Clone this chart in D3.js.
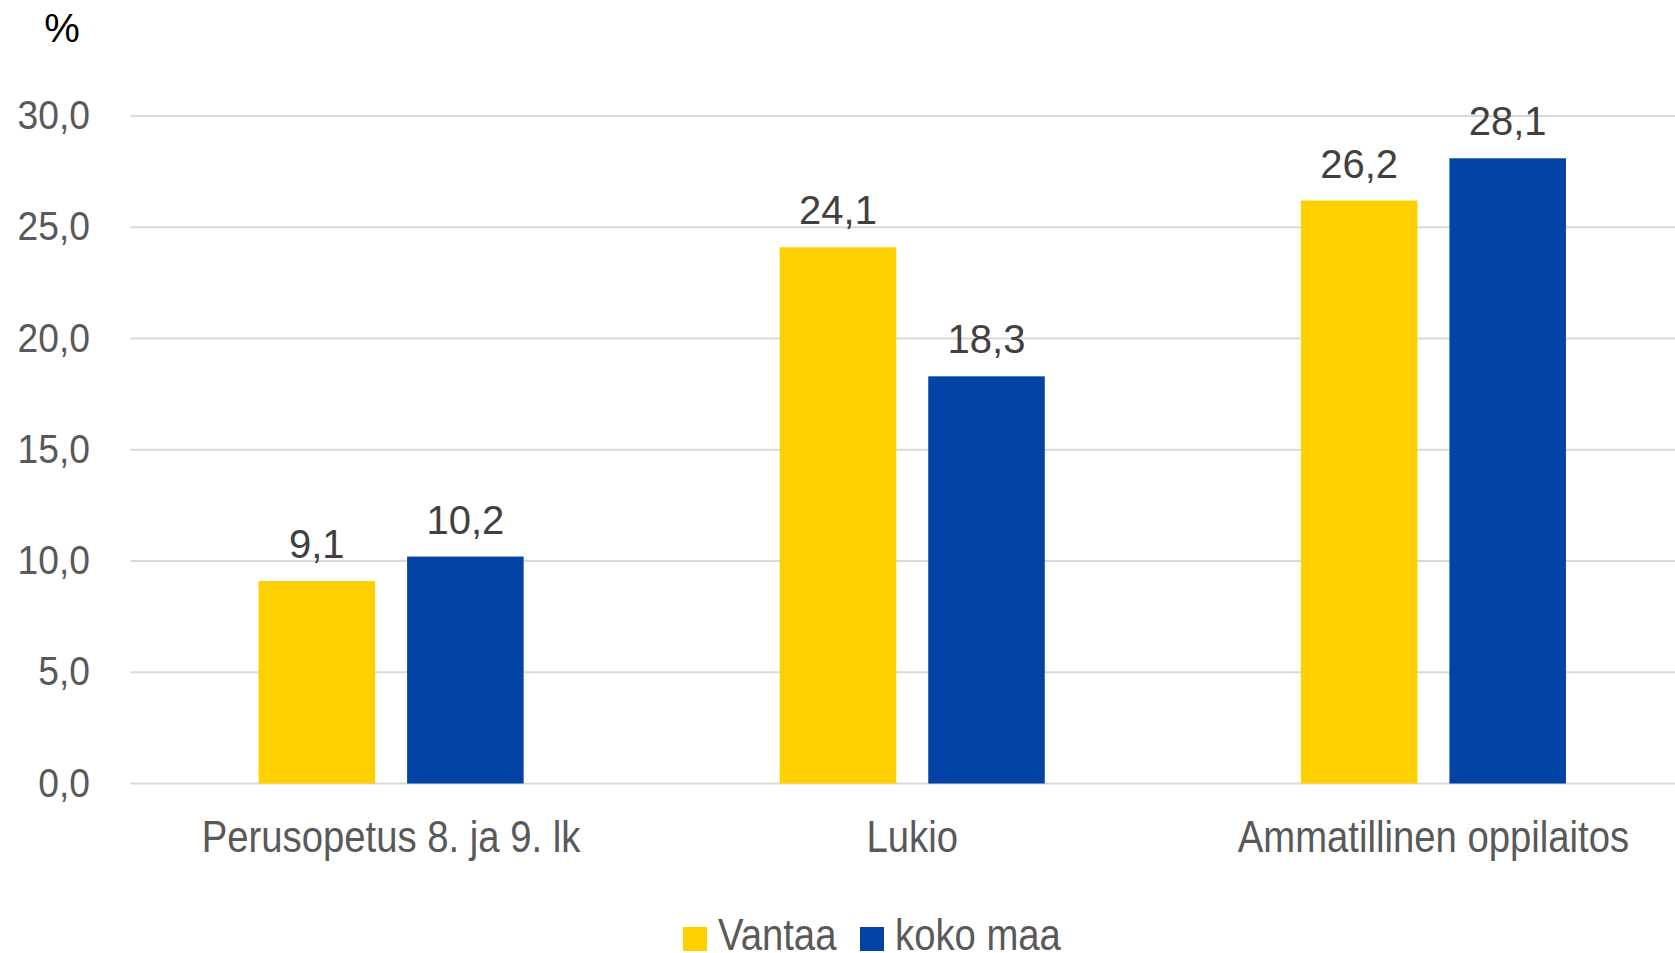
<!DOCTYPE html>
<html>
<head>
<meta charset="utf-8">
<script src="https://d3js.org/d3.v7.min.js"></script>
<style>
	body { margin: 0; background: #fff; overflow: hidden; }
	text { font-family: "Liberation Sans", Arial, sans-serif; }
</style>
</head>
<body>
<div id="chart"></div>
<script>
var categories = ["Perusopetus 8. ja 9. lk", "Lukio", "Ammatillinen oppilaitos"];
var seriesNames = ["Vantaa", "koko maa"];
var vantaa = [9.1, 24.1, 26.2];
var kokoMaa = [10.2, 18.3, 28.1];
var yTicks = [0, 5, 10, 15, 20, 25, 30];
var colors = ["#FED000", "#0343A6"];

var WIDTH = 1675, HEIGHT = 953;
var NARROW = 0.87;  //LABEL FONT IN THE ORIGINAL IS CONDENSED

var svg = d3.select("#chart").append("svg")
	.attr("width", WIDTH)
	.attr("height", HEIGHT);

//SCALES
var y = d3.scaleLinear().domain([0, 30]).range([783.5, 116]);
var x0 = d3.scaleBand().domain(categories).range([130.5, 1694]);
var x1 = d3.scaleBand().domain(seriesNames).range([0, x0.bandwidth()])
	.paddingInner(0.2155).paddingOuter(0.862);

var fmt = function(v){ return d3.format(".1f")(v).replace(".", ","); };

//GRID
svg.append("g").selectAll("line")
	.data(yTicks)
	.enter().append("line")
	.attr("x1", 130.5).attr("x2", WIDTH)
	.attr("y1", function(d){ return y(d); })
	.attr("y2", function(d){ return y(d); })
	.attr("stroke", "#d9d9d9")
	.attr("stroke-width", 2);

//Y TICK LABELS
svg.append("g").selectAll("text")
	.data(yTicks)
	.enter().append("text")
	.attr("transform", function(d){ return "translate(90," + (y(d) + 13) + ") scale(0.93,1.02)"; })
	.attr("text-anchor", "end")
	.attr("font-size", 40)
	.attr("fill", "#595959")
	.text(fmt);

svg.append("text")
	.attr("x", 62).attr("y", 42)
	.attr("text-anchor", "middle")
	.attr("font-size", 40)
	.attr("fill", "#000")
	.text("%");

//BARS
var rows = categories.map(function(c, i){
	return {cat: c, values: [
		{name: seriesNames[0], value: vantaa[i]},
		{name: seriesNames[1], value: kokoMaa[i]}
	]};
});

var groups = svg.append("g").selectAll("g")
	.data(rows)
	.enter().append("g")
	.attr("transform", function(d){ return "translate(" + x0(d.cat) + ",0)"; });

groups.selectAll("rect")
	.data(function(d){ return d.values; })
	.enter().append("rect")
	.attr("x", function(d){ return x1(d.name); })
	.attr("y", function(d){ return y(d.value); })
	.attr("width", x1.bandwidth())
	.attr("height", function(d){ return y(0) - y(d.value); })
	.attr("fill", function(d, i){ return colors[i]; });

groups.selectAll("text.val")
	.data(function(d){ return d.values; })
	.enter().append("text")
	.attr("class", "val")
	.attr("x", function(d){ return x1(d.name) + x1.bandwidth() / 2; })
	.attr("y", function(d){ return y(d.value) - 23; })
	.attr("text-anchor", "middle")
	.attr("font-size", 40)
	.attr("fill", "#404040")
	.text(function(d){ return fmt(d.value); });

//CATEGORY LABELS
svg.append("g").selectAll("text")
	.data(categories)
	.enter().append("text")
	.attr("transform", function(d){
		return "translate(" + (x0(d) + x0.bandwidth() / 2) + ",852) scale(" + NARROW + ",1)";
	})
	.attr("text-anchor", "middle")
	.attr("font-size", 44)
	.attr("fill", "#595959")
	.text(function(d){ return d; });

//LEGEND
var legendX = [683, 860];
var legend = svg.append("g").selectAll("g")
	.data(seriesNames)
	.enter().append("g")
	.attr("transform", function(d, i){ return "translate(" + legendX[i] + ",927)"; });

legend.append("rect")
	.attr("width", 24).attr("height", 24)
	.attr("fill", function(d, i){ return colors[i]; });

legend.append("text")
	.attr("transform", "translate(35,23) scale(" + NARROW + ",1)")
	.attr("font-size", 44)
	.attr("fill", "#595959")
	.text(function(d){ return d; });
</script>
</body>
</html>
